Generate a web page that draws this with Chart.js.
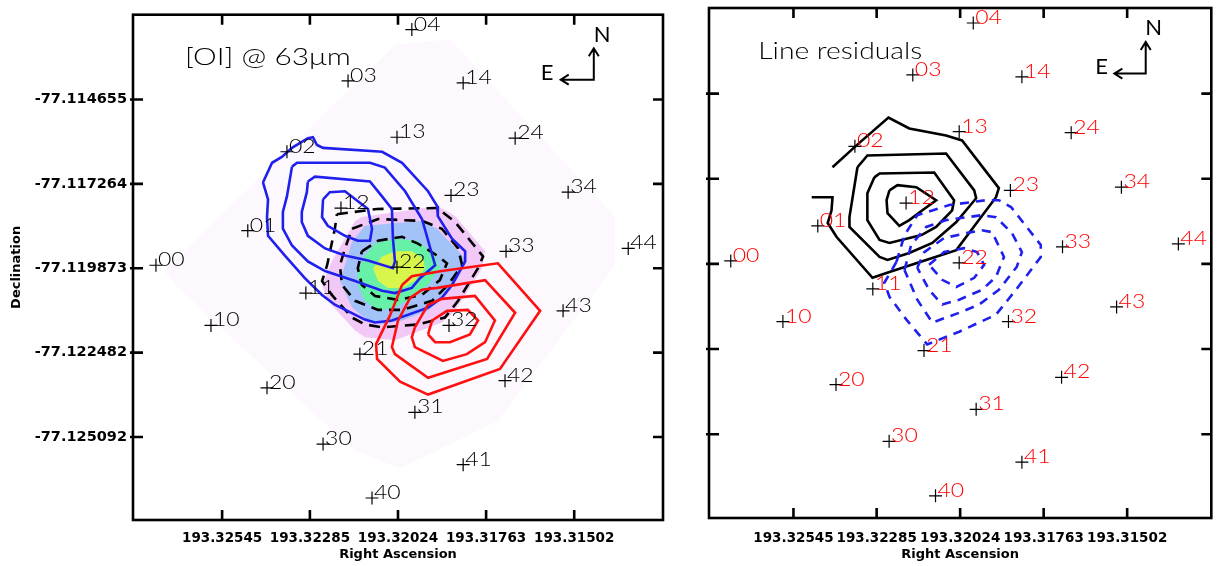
<!DOCTYPE html>
<html><head><meta charset="utf-8">
<script src="https://cdn.jsdelivr.net/npm/chart.js@4"></script>
<style>
html,body{margin:0;padding:0;background:#fff;}
#wrap{position:relative;width:1219px;height:566px;overflow:hidden;background:#fff;}
#c1{position:absolute;left:0;top:0;}
#c2{position:absolute;left:680px;top:0;}
</style></head><body>
<div id="wrap"><canvas id="c1" width="680" height="566"></canvas><canvas id="c2" width="539" height="566"></canvas></div>
<script>
// ---- axes ----
const raTicks = [193.32545, 193.32285, 193.32024, 193.31763, 193.31502];
const decTicks = [-77.114655, -77.117264, -77.119873, -77.122482, -77.125092];
const raRange = [193.31239, 193.32809];
const decRange = [-77.12766, -77.11203];

// ---- spaxel positions ----
const spaxelIds = ['00','01','02','03','04','10','11','12','13','14','20','21','22','23','24','30','31','32','33','34','40','41','42','43','44'];
const spaxelRA = [193.32741,193.32469,193.32353,193.32172,193.31983,193.32578,193.32297,193.32193,193.32027,193.31831,193.32412,193.32137,193.32027,193.31867,193.31677,193.32246,193.31974,193.31873,193.31704,193.31520,193.32101,193.31831,193.31707,193.31535,193.31342];
const spaxelDec = [-77.11978,-77.11871,-77.11627,-77.11408,-77.11249,-77.12164,-77.12064,-77.11801,-77.11582,-77.11414,-77.12357,-77.12253,-77.11984,-77.11762,-77.11585,-77.12531,-77.12433,-77.12164,-77.11935,-77.11752,-77.12698,-77.12595,-77.12335,-77.12119,-77.11926];

// ---- [OI] 63um map (filled levels) ----
const mapFaint = [[193.32715,-77.11996],[193.32033,-77.11295],[193.31870,-77.11279],[193.31381,-77.11829],[193.31381,-77.11978],[193.31728,-77.12460],[193.32018,-77.12607],[193.32151,-77.12552],[193.32314,-77.12399],[193.32685,-77.12039]];
const mapPink = [[193.32220,-77.11966],[193.32151,-77.11841],[193.32131,-77.11829],[193.31906,-77.11795],[193.31855,-77.11826],[193.31766,-77.11935],[193.31775,-77.11987],[193.31855,-77.12119],[193.31894,-77.12155],[193.32033,-77.12210],[193.32122,-77.12201],[193.32151,-77.12180],[193.32232,-77.12088],[193.32249,-77.12039]];
const mapBlue = [[193.32196,-77.12027],[193.32160,-77.11905],[193.32122,-77.11856],[193.31953,-77.11841],[193.31908,-77.11865],[193.31825,-77.11957],[193.31834,-77.11987],[193.31885,-77.12070],[193.31935,-77.12119],[193.32012,-77.12149],[193.32071,-77.12161],[193.32113,-77.12149],[193.32160,-77.12109]];
const mapGreen = [[193.32143,-77.11996],[193.32122,-77.11948],[193.32092,-77.11911],[193.32033,-77.11896],[193.31965,-77.11902],[193.31914,-77.11948],[193.31900,-77.11987],[193.31935,-77.12039],[193.31983,-77.12079],[193.32033,-77.12109],[193.32083,-77.12119],[193.32122,-77.12088],[193.32143,-77.12039]];
const mapYellow = [[193.32098,-77.11987],[193.32071,-77.11951],[193.32033,-77.11935],[193.31983,-77.11935],[193.31950,-77.11957],[193.31944,-77.11987],[193.31974,-77.12027],[193.32012,-77.12048],[193.32054,-77.12048],[193.32083,-77.12027]];

// ---- [OI] contours (black dashed) ----
const oiDash1 = [[193.32205,-77.11820],[193.32086,-77.11804],[193.31908,-77.11801],[193.31855,-77.11844],[193.31772,-77.11951],[193.31787,-77.11987],[193.31846,-77.12088],[193.31885,-77.12140],[193.31965,-77.12161],[193.32071,-77.12170],[193.32122,-77.12161],[193.32160,-77.12140],[193.32220,-77.12070],[193.32249,-77.12027],[193.32234,-77.11978],[193.32211,-77.11865]];
const oiDash2 = [[193.32160,-77.11865],[193.32083,-77.11835],[193.31953,-77.11841],[193.31894,-77.11865],[193.31846,-77.11926],[193.31834,-77.11978],[193.31876,-77.12039],[193.31923,-77.12088],[193.32012,-77.12116],[193.32083,-77.12116],[193.32151,-77.12088],[193.32190,-77.12039],[193.32196,-77.11978],[193.32181,-77.11926]];
const oiDash3 = [[193.32131,-77.11935],[193.32083,-77.11902],[193.32012,-77.11890],[193.31965,-77.11911],[193.31908,-77.11948],[193.31879,-77.11972],[193.31900,-77.12024],[193.31953,-77.12070],[193.32024,-77.12085],[193.32092,-77.12073],[193.32131,-77.12039],[193.32143,-77.11987]];

// ---- blue contours ----
const blue1 = [[193.32424,-77.11722],[193.32397,-77.11661],[193.32368,-77.11643],[193.32338,-77.11615],[193.32291,-77.11585],[193.32276,-77.11582],[193.32264,-77.11606],[193.32246,-77.11615],[193.32071,-77.11627],[193.32012,-77.11661],[193.31935,-77.11749],[193.31908,-77.11795],[193.31906,-77.11826],[193.31864,-77.11896],[193.31825,-77.11935],[193.31825,-77.11966],[193.31864,-77.12039],[193.31894,-77.12079],[193.31935,-77.12109],[193.32042,-77.12149],[193.32092,-77.12155],[193.32122,-77.12146],[193.32211,-77.12100],[193.32249,-77.12070],[193.32300,-77.12018],[193.32359,-77.11948],[193.32409,-77.11887],[193.32412,-77.11829],[193.32409,-77.11774]];
const blue2 = [[193.32291,-77.11719],[193.32270,-77.11704],[193.32107,-77.11719],[193.32069,-77.11768],[193.32042,-77.11804],[193.32039,-77.11896],[193.32033,-77.11966],[193.32039,-77.11987],[193.32113,-77.11963],[193.32181,-77.11948],[193.32240,-77.11926],[193.32291,-77.11887],[193.32309,-77.11844],[193.32309,-77.11813],[193.32294,-77.11752]];
const blue3 = [[193.32338,-77.11673],[193.32323,-77.11661],[193.32107,-77.11661],[193.32063,-77.11676],[193.32003,-77.11749],[193.31953,-77.11835],[193.31914,-77.11978],[193.31959,-77.12018],[193.31983,-77.12048],[193.32033,-77.12064],[193.32071,-77.12057],[193.32151,-77.12027],[193.32240,-77.11996],[193.32291,-77.11966],[193.32338,-77.11917],[193.32365,-77.11865],[193.32365,-77.11813],[193.32353,-77.11765]];
const blue4 = [[193.32246,-77.11774],[193.32226,-77.11752],[193.32181,-77.11749],[193.32113,-77.11804],[193.32101,-77.11865],[193.32107,-77.11902],[193.32143,-77.11902],[193.32181,-77.11887],[193.32232,-77.11856],[193.32249,-77.11829]];

// ---- red contours ----
const red1 = [[193.32012,-77.12039],[193.31983,-77.12012],[193.31894,-77.11996],[193.31728,-77.11972],[193.31603,-77.12119],[193.31722,-77.12299],[193.31935,-77.12378],[193.32018,-77.12338],[193.32086,-77.12268],[193.32089,-77.12222],[193.32048,-77.12134]];
const red2 = [[193.32024,-77.12149],[193.31988,-77.12079],[193.31953,-77.12054],[193.31908,-77.12048],[193.31766,-77.12024],[193.31677,-77.12125],[193.31760,-77.12268],[193.31935,-77.12326],[193.32033,-77.12253],[193.32042,-77.12231]];
const red3 = [[193.31974,-77.12170],[193.31935,-77.12100],[193.31894,-77.12082],[193.31796,-77.12073],[193.31737,-77.12149],[193.31766,-77.12216],[193.31820,-77.12253],[193.31891,-77.12274],[193.31974,-77.12231],[193.31983,-77.12201]];
const red4 = [[193.31935,-77.12192],[193.31923,-77.12149],[193.31879,-77.12119],[193.31817,-77.12116],[193.31787,-77.12149],[193.31811,-77.12192],[193.31870,-77.12216],[193.31914,-77.12216]];

// ---- residual contours (right) ----
const resPos1 = [[193.32488,-77.11783],[193.32423,-77.11783],[193.32426,-77.11823],[193.32438,-77.11862],[193.32410,-77.11905],[193.32298,-77.12030],[193.32245,-77.12012],[193.32111,-77.11969],[193.32036,-77.11945],[193.31912,-77.11783],[193.31903,-77.11755],[193.32018,-77.11609],[193.32068,-77.11594],[193.32183,-77.11572],[193.32248,-77.11539],[193.32348,-77.11624],[193.32423,-77.11691]];
const resPos2 = [[193.32345,-77.11691],[193.32314,-77.11655],[193.32068,-77.11649],[193.31980,-77.11762],[193.31974,-77.11786],[193.32036,-77.11859],[193.32111,-77.11923],[193.32183,-77.11954],[193.32251,-77.11975],[193.32276,-77.11966],[193.32370,-77.11874],[193.32370,-77.11844]];
const resPos3 = [[193.32292,-77.11722],[193.32276,-77.11710],[193.32105,-77.11707],[193.32043,-77.11792],[193.32049,-77.11823],[193.32099,-77.11874],[193.32145,-77.11899],[193.32245,-77.11923],[193.32276,-77.11914],[193.32314,-77.11853],[193.32314,-77.11771]];
const resPos4 = [[193.32245,-77.11762],[193.32220,-77.11746],[193.32161,-77.11752],[193.32099,-77.11792],[193.32142,-77.11823],[193.32183,-77.11853],[193.32214,-77.11871],[193.32251,-77.11832],[193.32254,-77.11792]];
const resNeg1 = [[193.32223,-77.11981],[193.32198,-77.11899],[193.32158,-77.11838],[193.32058,-77.11807],[193.31943,-77.11792],[193.31903,-77.11792],[193.31865,-77.11813],[193.31772,-77.11929],[193.31772,-77.11966],[193.31850,-77.12067],[193.31912,-77.12143],[193.32027,-77.12195],[193.32127,-77.12234],[193.32192,-77.12158],[193.32245,-77.12088],[193.32261,-77.12045]];
const resNeg2 = [[193.32198,-77.12006],[193.32177,-77.11929],[193.32130,-77.11874],[193.32068,-77.11853],[193.31956,-77.11838],[193.31912,-77.11844],[193.31862,-77.11893],[193.31831,-77.11951],[193.31847,-77.11996],[193.31903,-77.12067],[193.31965,-77.12112],[193.32027,-77.12137],[193.32111,-77.12167],[193.32158,-77.12097]];
const resNeg3 = [[193.32158,-77.11999],[193.32136,-77.11951],[193.32074,-77.11908],[193.32005,-77.11893],[193.31956,-77.11884],[193.31924,-77.11890],[193.31887,-77.11966],[193.31912,-77.12027],[193.31956,-77.12067],[193.32027,-77.12097],[193.32080,-77.12112],[193.32121,-77.12067]];
const resNeg4 = [[193.32121,-77.11990],[193.32074,-77.11951],[193.32012,-77.11939],[193.31971,-77.11951],[193.31949,-77.11990],[193.31980,-77.12030],[193.32036,-77.12058],[193.32080,-77.12036]];

// ---- annotations (data coords) ----
const titleAnchor = [193.32655, -77.11337];
const compass = {corner:[193.31444,-77.11404], nTipDec:-77.11307, eTipRA:193.31542, nLabel:[193.31419,-77.11264], eLabel:[193.31582,-77.11383]};

const BLUE = '#2020ee', RED = '#ff1010';
const toXY = (pts, closed) => (closed ? pts.concat([pts[0]]) : pts).map(p => ({x:p[0], y:p[1]}));
const lineDS = (pts, color, width, dash, closed = true) => ({
  type:'line', data: toXY(pts, closed), borderColor: color, borderWidth: width, borderDash: dash || [],
  pointRadius:0, pointHoverRadius:0, pointHitRadius:0, fill:false, tension:0,
  borderJoinStyle:'miter', borderCapStyle:'butt'
});
const fillDS = (pts, color) => ({
  type:'line', data: toXY(pts, true), borderColor:'rgba(0,0,0,0)', borderWidth:0, backgroundColor: color,
  fill:'shape', pointRadius:0, pointHoverRadius:0, pointHitRadius:0, tension:0
});
const crossDS = () => ({
  type:'scatter', data: spaxelRA.map((r,i) => ({x:r, y:spaxelDec[i]})),
  pointStyle:'cross', pointRadius:6.5, pointHoverRadius:6.5, borderColor:'#000', borderWidth:1.2, backgroundColor:'#000'
});

const LABEL_FONT = '300 20px Lato, "DejaVu Sans", sans-serif';
const TITLE_FONT = '300 23px Lato, "DejaVu Sans", sans-serif';
const COMPASS_FONT = '400 22px Lato, "DejaVu Sans", sans-serif';

function wideText(ctx, text, x, y, sx) {
  ctx.save(); ctx.translate(x, y); ctx.scale(sx, 1); ctx.fillText(text, 0, 0); ctx.restore();
}

const framePlugin = {
  id:'frame',
  afterDraw(chart) {
    const {ctx, chartArea:a, scales:{x, y}} = chart;
    ctx.save();
    ctx.strokeStyle = '#000'; ctx.lineWidth = 2.6;
    ctx.strokeRect(a.left, a.top, a.right - a.left, a.bottom - a.top);
    const L = 10;
    ctx.beginPath();
    x.ticks.forEach(t => { const p = x.getPixelForValue(t.value);
      ctx.moveTo(p, a.bottom); ctx.lineTo(p, a.bottom - L); ctx.moveTo(p, a.top); ctx.lineTo(p, a.top + L); });
    y.ticks.forEach(t => { const p = y.getPixelForValue(t.value);
      ctx.moveTo(a.left - 3, p); ctx.lineTo(a.left + L, p); ctx.moveTo(a.right, p); ctx.lineTo(a.right - L, p); });
    ctx.stroke();
    ctx.restore();
  }
};

const annotPlugin = {
  id:'annot',
  afterDatasetsDraw(chart, args, o) {
    const {ctx, scales:{x, y}} = chart;
    ctx.save();
    // spaxel labels
    const meta = chart.getDatasetMeta(0);
    ctx.font = LABEL_FONT; ctx.fillStyle = o.labelColor; ctx.textAlign = 'left'; ctx.textBaseline = 'alphabetic';
    meta.data.forEach((el, i) => wideText(ctx, spaxelIds[i], el.x + 2, el.y + 1, 1.15));
    // title
    ctx.fillStyle = '#000'; ctx.font = TITLE_FONT; ctx.textBaseline = 'middle';
    wideText(ctx, o.title, x.getPixelForValue(titleAnchor[0]), y.getPixelForValue(titleAnchor[1]), o.titleScale);
    // compass
    const cx = x.getPixelForValue(compass.corner[0]), cy = y.getPixelForValue(compass.corner[1]);
    const ny = y.getPixelForValue(compass.nTipDec), ex = x.getPixelForValue(compass.eTipRA);
    ctx.strokeStyle = '#000'; ctx.lineWidth = 2; ctx.lineJoin = 'miter';
    ctx.beginPath();
    ctx.moveTo(cx, ny); ctx.lineTo(cx, cy); ctx.lineTo(ex, cy);
    ctx.moveTo(cx - 5, ny + 8); ctx.lineTo(cx, ny); ctx.lineTo(cx + 5, ny + 8);
    ctx.moveTo(ex + 8, cy - 5); ctx.lineTo(ex, cy); ctx.lineTo(ex + 8, cy + 5);
    ctx.stroke();
    ctx.font = COMPASS_FONT; ctx.textAlign = 'center'; ctx.textBaseline = 'middle';
    ctx.fillText('N', x.getPixelForValue(compass.nLabel[0]), y.getPixelForValue(compass.nLabel[1]));
    ctx.fillText('E', x.getPixelForValue(compass.eLabel[0]), y.getPixelForValue(compass.eLabel[1]));
    ctx.restore();
  }
};

function makeOptions(left, cfg) {
  return {
    responsive:false, animation:false, devicePixelRatio:1,
    layout:{padding:{left:0, top:8, right:cfg.padRight, bottom:0}},
    plugins:{legend:{display:false}, tooltip:{enabled:false}, annot:{title:cfg.title, titleScale:cfg.titleScale, labelColor:cfg.labelColor}},
    scales:{
      x:{type:'linear', reverse:true, min:raRange[0], max:raRange[1],
        afterBuildTicks: s => { s.ticks = raTicks.map(v => ({value:v})); },
        afterFit: s => { s.height = cfg.xAxisH; },
        grid:{display:false, drawTicks:false}, border:{display:false},
        ticks:{color:'#000', font:{family:'DejaVu Sans', weight:'bold', size:13.5}, padding:cfg.xPad, maxRotation:0, autoSkip:false,
          callback: v => v.toFixed(5)},
        title:{display:true, text:'Right Ascension', color:'#000', font:{family:'DejaVu Sans', weight:'bold', size:13}, padding:{top:0, bottom:4}}
      },
      y:{type:'linear', min:decRange[0], max:decRange[1],
        afterBuildTicks: s => { s.ticks = decTicks.map(v => ({value:v})); },
        afterFit: s => { s.width = cfg.yAxisW; },
        grid:{display:false, drawTicks:false}, border:{display:false},
        ticks:{display:left, color:'#000', font:{family:'DejaVu Sans', weight:'bold', size:14.5}, padding:6, autoSkip:false,
          callback: v => v.toFixed(6)},
        title:{display:left, text:'Declination', color:'#000', font:{family:'DejaVu Sans', weight:'bold', size:13}, padding:{top:9, bottom:0}}
      }
    }
  };
}

const leftDatasets = [
  crossDS(),
  lineDS(red4, RED, 2.6), lineDS(red3, RED, 2.6), lineDS(red2, RED, 2.6), lineDS(red1, RED, 2.6),
  lineDS(blue4, BLUE, 2.6), lineDS(blue3, BLUE, 2.6), lineDS(blue2, BLUE, 2.6), lineDS(blue1, BLUE, 2.6),
  lineDS(oiDash3, '#000', 2.6, [11,7]), lineDS(oiDash2, '#000', 2.6, [11,7]), lineDS(oiDash1, '#000', 2.6, [11,7]),
  fillDS(mapYellow, '#d8f54c'), fillDS(mapGreen, '#66f0a8'), fillDS(mapBlue, '#a2c2f8'), fillDS(mapPink, '#f2c8f6'), fillDS(mapFaint, '#fdf8fd')
];
const rightDatasets = [
  crossDS(),
  lineDS(resNeg4, BLUE, 2.6, [9,7]), lineDS(resNeg3, BLUE, 2.6, [9,7]), lineDS(resNeg2, BLUE, 2.6, [9,7]), lineDS(resNeg1, BLUE, 2.6, [9,7]),
  lineDS(resPos4, '#000', 2.6), lineDS(resPos3, '#000', 2.6), lineDS(resPos2, '#000', 2.6), lineDS(resPos1, '#000', 2.6, null, false)
];

new Chart(document.getElementById('c1'), {
  type:'scatter', data:{datasets:leftDatasets},
  options: makeOptions(true, {padRight:17, xAxisH:46, yAxisW:133, xPad:10, title:'[OI] @ 63\u03bcm', titleScale:1.3, labelColor:'#000'}),
  plugins:[annotPlugin, framePlugin]
});
new Chart(document.getElementById('c2'), {
  type:'scatter', data:{datasets:rightDatasets},
  options: makeOptions(false, {padRight:7, xAxisH:48, yAxisW:29, xPad:12, title:'Line residuals', titleScale:1.23, labelColor:'#ff0000'}),
  plugins:[annotPlugin, framePlugin]
});
</script></body></html>
